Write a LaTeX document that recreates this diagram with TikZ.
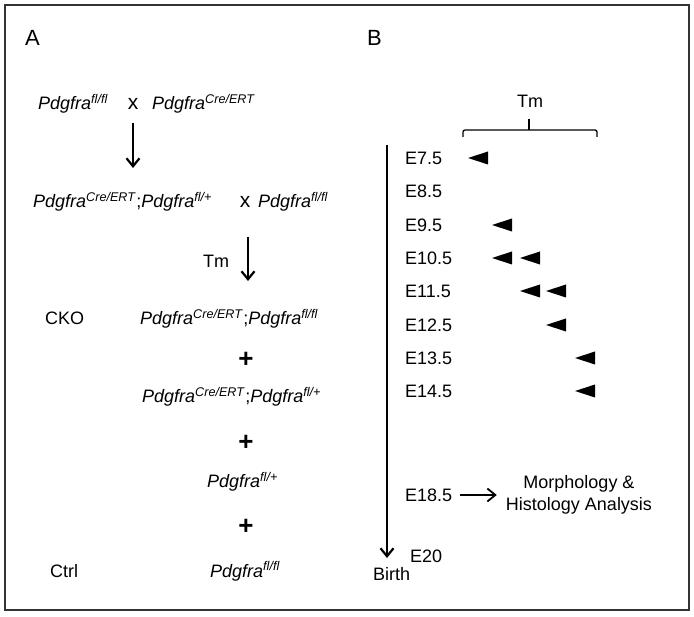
\documentclass[tikz,border=0pt]{standalone}
\usepackage{fontspec}
\setmainfont{Liberation Sans}
\usetikzlibrary{arrows.meta}

\newcommand{\pdg}[1]{\textit{Pdgfra}\textsuperscript{\textit{#1}}}

\begin{document}
\begin{tikzpicture}[
    x=1pt,y=-1pt,
    every node/.style={font=\fontsize{18}{22}\selectfont,inner sep=0pt},
    lbl/.style={anchor=base west},
    panel/.style={anchor=base west,font=\fontsize{22}{24}\selectfont},
    cross/.style={anchor=base,font=\fontsize{21}{24}\selectfont},
    plus/.style={font=\fontsize{26}{28}\selectfont\bfseries},
    arr/.style={line width=2.2pt,-{Straight Barb[length=8pt,width=13pt]}},
    tri/.style={fill=black}
]

\useasboundingbox (0,0) rectangle (694,617);
\draw[line width=1.8pt,black!80] (5,5) rectangle (689,610);

% panel A
\begin{scope}

\node[panel] (A) at (25,46) {A};

\node[lbl] (g1)  at (38,110)  {\pdg{fl/fl}};
\node[cross] (x1) at (133,110) {x};
\node[lbl] (g2)  at (152,110) {\pdg{Cre/ERT}};

\coordinate (a1s) at (133,123);
\coordinate (a1e) at (133,168);
\draw[arr] (a1s)--(a1e);

\node[lbl] (g3)  at (33,208)  {\pdg{Cre/ERT};\pdg{fl/+}};
\node[cross] (x2) at (245,208) {x};
\node[lbl] (g4)  at (258,208) {\pdg{fl/fl}};

\node[anchor=base] (tm1) at (216,268) {Tm};
\coordinate (a2s) at (248,237);
\coordinate (a2e) at (248,281);
\draw[arr] (a2s)--(a2e);

\node[lbl] (cko)  at (45,325)  {CKO};
\node[lbl] (o1)   at (140,325) {\pdg{Cre/ERT};\pdg{fl/fl}};
\node[plus] (p1) at (246,360) {+};
\node[lbl] (o2)   at (142,403) {\pdg{Cre/ERT};\pdg{fl/+}};
\node[plus] (p2) at (246,443) {+};
\node[lbl] (o3)   at (207,488) {\pdg{fl/+}};
\node[plus] (p3) at (246,527) {+};
\node[lbl] (ctrl) at (50,577)  {Ctrl};
\node[lbl] (o4)   at (210,577) {\pdg{fl/fl}};

\end{scope}

% panel B
\begin{scope}

\node[panel] (B) at (367,46) {B};

\node[anchor=base] (tm2) at (530,108) {Tm};
\draw[line width=1.3pt,rounded corners=2pt]
    (463,137) -- (463,130) -- (597,130) -- (597,137);
\draw[line width=1.3pt] (529,130) -- (529,119);

\coordinate (ttop) at (387,145);
\coordinate (tbot) at (387,558);
\draw[arr] (ttop)--(tbot);

\node[lbl] (e75)  at (405,165) {E7.5};
\node[lbl] (e85)  at (405,198) {E8.5};
\node[lbl] (e95)  at (405,232) {E9.5};
\node[lbl] (e105) at (405,265) {E10.5};
\node[lbl] (e115) at (405,298) {E11.5};
\node[lbl] (e125) at (405,332) {E12.5};
\node[lbl] (e135) at (405,365) {E13.5};
\node[lbl] (e145) at (405,398) {E14.5};
\node[lbl] (e185) at (405,502) {E18.5};
\node[lbl] (e20)  at (410,562) {E20};
\node[lbl] (birth) at (373,580) {Birth};

% injection marks
\foreach \tx/\ty in {468/158, 492/225, 492/258, 520/258, 520/291,
                     546/291, 546/325, 575/358, 575/391}
    \fill[tri] (\tx,\ty) -- (\tx+20,\ty-6.5) -- (\tx+20,\ty+6.5) -- cycle;

\node[align=center] (ana) at (579,495)
    {Morphology \&\\Histology Analysis};
\draw[arr,line width=1.8pt,shorten <=8pt,shorten >=9pt]
    (e185.east |- ana.west) -- (ana.west);

\end{scope}
\end{tikzpicture}
\end{document}
